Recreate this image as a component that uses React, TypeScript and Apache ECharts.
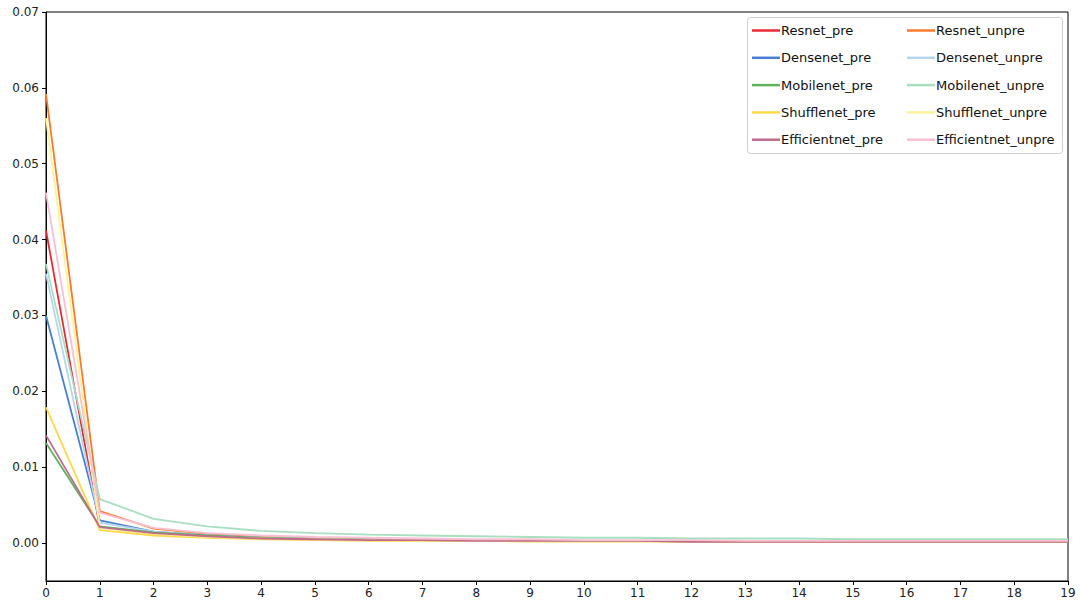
import React, { useEffect, useRef } from "react";
import * as echarts from "echarts";

// Epochs on the x axis
const epochs: number[] = Array.from({ length: 20 }, (_, i) => i);

const seriesNames: string[] = [
  "Resnet_pre",
  "Resnet_unpre",
  "Densenet_pre",
  "Densenet_unpre",
  "Mobilenet_pre",
  "Mobilenet_unpre",
  "Shufflenet_pre",
  "Shufflenet_unpre",
  "Efficientnet_pre",
  "Efficientnet_unpre",
];

const seriesColors: string[] = [
  "#ea2a35",
  "#f77b2a",
  "#4a7fd6",
  "#b5d6ec",
  "#5cb35c",
  "#a9dfc0",
  "#fdd94a",
  "#fff39a",
  "#c06a8c",
  "#f8c0d2",
];

const resnetPre: number[] = [0.0412, 0.0021, 0.0012, 0.0009, 0.0006, 0.0005, 0.0004, 0.0004, 0.0003, 0.0003, 0.0003, 0.0003, 0.0002, 0.0002, 0.0002, 0.0002, 0.0002, 0.0002, 0.0002, 0.0002];
const resnetUnpre: number[] = [0.0592, 0.0042, 0.0019, 0.0012, 0.0008, 0.0006, 0.0005, 0.0004, 0.0004, 0.0003, 0.0003, 0.0003, 0.0003, 0.0002, 0.0002, 0.0002, 0.0002, 0.0002, 0.0002, 0.0002];
const densenetPre: number[] = [0.0300, 0.0030, 0.0015, 0.0010, 0.0007, 0.0005, 0.0004, 0.0004, 0.0003, 0.0003, 0.0003, 0.0003, 0.0002, 0.0002, 0.0002, 0.0002, 0.0002, 0.0002, 0.0002, 0.0002];
const densenetUnpre: number[] = [0.0355, 0.0027, 0.0015, 0.0010, 0.0007, 0.0006, 0.0005, 0.0004, 0.0004, 0.0003, 0.0003, 0.0003, 0.0003, 0.0003, 0.0003, 0.0003, 0.0003, 0.0003, 0.0003, 0.0003];
const mobilenetPre: number[] = [0.0132, 0.0022, 0.0014, 0.0010, 0.0007, 0.0006, 0.0005, 0.0004, 0.0004, 0.0004, 0.0003, 0.0003, 0.0003, 0.0003, 0.0003, 0.0003, 0.0003, 0.0003, 0.0003, 0.0003];
const mobilenetUnpre: number[] = [0.0368, 0.0058, 0.0032, 0.0022, 0.0016, 0.0013, 0.0011, 0.0010, 0.0009, 0.0008, 0.0007, 0.0007, 0.0006, 0.0006, 0.0006, 0.0005, 0.0005, 0.0005, 0.0005, 0.0005];
const shufflenetPre: number[] = [0.0179, 0.0017, 0.0010, 0.0007, 0.0005, 0.0004, 0.0003, 0.0003, 0.0003, 0.0002, 0.0002, 0.0002, 0.0002, 0.0002, 0.0002, 0.0002, 0.0002, 0.0002, 0.0002, 0.0002];
const shufflenetUnpre: number[] = [0.0560, 0.0020, 0.0012, 0.0008, 0.0006, 0.0005, 0.0004, 0.0004, 0.0003, 0.0003, 0.0003, 0.0003, 0.0003, 0.0003, 0.0003, 0.0003, 0.0003, 0.0003, 0.0003, 0.0003];
const efficientnetPre: number[] = [0.0142, 0.0021, 0.0013, 0.0009, 0.0006, 0.0005, 0.0004, 0.0004, 0.0003, 0.0003, 0.0003, 0.0003, 0.0002, 0.0002, 0.0002, 0.0002, 0.0002, 0.0002, 0.0002, 0.0002];
const efficientnetUnpre: number[] = [0.0462, 0.0040, 0.0020, 0.0013, 0.0010, 0.0008, 0.0007, 0.0006, 0.0005, 0.0005, 0.0004, 0.0004, 0.0004, 0.0003, 0.0003, 0.0003, 0.0003, 0.0003, 0.0003, 0.0003];

const seriesValues: number[][] = [
  resnetPre,
  resnetUnpre,
  densenetPre,
  densenetUnpre,
  mobilenetPre,
  mobilenetUnpre,
  shufflenetPre,
  shufflenetUnpre,
  efficientnetPre,
  efficientnetUnpre,
];

// Tick positions for the y axis
const yTicks: number[] = [0, 0.01, 0.02, 0.03, 0.04, 0.05, 0.06, 0.07];

const FONT = "DejaVu Sans";

export default function App() {
  const ref = useRef<HTMLDivElement>(null);

  useEffect(() => {
    if (!ref.current) return;
    const chart = echarts.init(ref.current, null, { renderer: "svg" });

    const series = seriesNames.map((name, i) => ({
      name,
      type: "line",
      data: epochs.map((e, j) => [e, seriesValues[i][j]]),
      showSymbol: false,
      symbol: "none",
      lineStyle: { width: 1.8, color: seriesColors[i] },
      itemStyle: { color: seriesColors[i] },
      z: 2,
    }));

    const legendCommon = {
      orient: "vertical" as const,
      icon: "rect",
      itemWidth: 28,
      itemHeight: 2.5,
      itemGap: 14.3,
      top: 24,
      z: 10,
      textStyle: { fontFamily: FONT, fontSize: 13, color: "#111", padding: [0, 0, 0, -4] },
      padding: 0,
    };

    chart.setOption({
      animation: false,
      backgroundColor: "#ffffff",
      grid: {
        left: 46,
        right: 12,
        top: 12,
        bottom: 24,
        show: true,
        borderColor: "#000",
        borderWidth: 1,
      },
      xAxis: {
        type: "value",
        min: 0,
        max: 19,
        interval: 1,
        axisLine: { show: true, onZero: false, lineStyle: { color: "#000", width: 1 } },
        axisTick: { show: true, length: 4, lineStyle: { color: "#000" } },
        axisLabel: { fontFamily: FONT, fontSize: 12, color: "#222", margin: 6 },
        splitLine: { show: false },
      },
      yAxis: {
        type: "value",
        min: -0.005,
        max: 0.07,
        axisLine: { show: true, onZero: false, lineStyle: { color: "#000", width: 1 } },
        axisTick: {
          show: true,
          length: 4,
          lineStyle: { color: "#000" },
          customValues: yTicks,
        },
        axisLabel: {
          fontFamily: FONT,
          fontSize: 12,
          color: "#222",
          margin: 7,
          customValues: yTicks,
          formatter: (v: number) => v.toFixed(2),
        },
        splitLine: { show: false },
      },
      legend: [
        {
          ...legendCommon,
          left: 752,
          data: seriesNames.filter((_, i) => i % 2 === 0),
        },
        {
          ...legendCommon,
          left: 907,
          data: seriesNames.filter((_, i) => i % 2 === 1),
        },
      ],
      graphic: [
        {
          type: "rect",
          left: 747,
          top: 17,
          z: 1,
          shape: { width: 315, height: 136, r: 3 },
          style: { fill: "#ffffff", stroke: "#d0d0d0", lineWidth: 1 },
        },
      ],
      series,
    });

    return () => chart.dispose();
  }, []);

  return (
    <div
      ref={ref}
      style={{ position: "absolute", left: 0, top: 0, width: 1080, height: 605 }}
    />
  );
}
